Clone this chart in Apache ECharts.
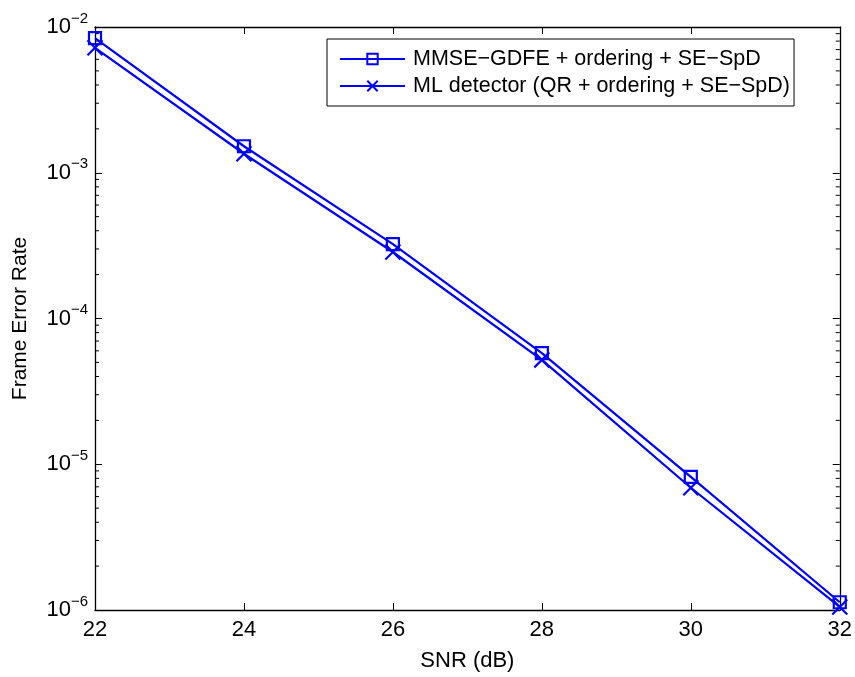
<!DOCTYPE html>
<html><head><meta charset="utf-8">
<script src="https://cdn.jsdelivr.net/npm/echarts@6/dist/echarts.min.js"></script>
<style>html,body{margin:0;padding:0;background:#fff}#c{width:855px;height:677px}</style>
</head><body><div id="c"></div>
<script>
const snr = [22, 24, 26, 28, 30, 32];
const mmseFer = [8.4e-3, 1.52e-3, 3.24e-4, 5.78e-5, 8.2e-6, 1.13e-6];
const mlFer = [7.2e-3, 1.35e-3, 2.86e-4, 5.2e-5, 6.9e-6, 1.05e-6];
const seriesNames = ['MMSE\u2212GDFE + ordering + SE\u2212SpD', 'ML detector (QR + ordering + SE\u2212SpD)'];
const decades = [-6, -5, -4, -3];
const minorMult = [2, 3, 4, 5, 6, 7, 8, 9];
const minorVals = [];
decades.forEach(d => minorMult.forEach(m => minorVals.push(m * Math.pow(10, d))));

const FONT = 'Liberation Sans, Arial, sans-serif';
const BLUE = '#0000ff';
const chart = echarts.init(document.getElementById('c'));

const crossPath = 'path://M0,0L10,10M10,0L0,10';

chart.setOption({
  animation: false,
  backgroundColor: '#fff',
  textStyle: { fontFamily: FONT },
  grid: { left: 95, right: 15, top: 27, bottom: 62, containLabel: false },
  legend: {
    data: seriesNames,
    orient: 'vertical',
    left: 327, top: 39,
    itemWidth: 65, itemHeight: 13, itemGap: 5,
    padding: [9, 4, 9, 12],
    borderColor: '#000', borderWidth: 1, backgroundColor: '#fff',
    textStyle: { fontFamily: FONT, fontSize: 21.5, color: '#000', padding: [0, 0, 0, 3] }
  },
  xAxis: [{
    type: 'value', min: 22, max: 32, interval: 2,
    name: 'SNR (dB)', nameLocation: 'middle', nameGap: 40,
    nameTextStyle: { fontFamily: FONT, fontSize: 22, color: '#000' },
    axisLine: { lineStyle: { color: '#000', width: 1.3 } },
    axisTick: { inside: true, length: 7, lineStyle: { color: '#000' } },
    axisLabel: { fontFamily: FONT, fontSize: 22, color: '#000', margin: 9 },
    splitLine: { show: false }
  }, {
    type: 'value', position: 'top', min: 22, max: 32, interval: 2,
    axisLine: { lineStyle: { color: '#000', width: 1.3 } },
    axisTick: { inside: true, length: 7, lineStyle: { color: '#000' } },
    axisLabel: { show: false }, splitLine: { show: false }
  }],
  yAxis: [{
    type: 'log', logBase: 10, min: 1e-6, max: 1e-2,
    name: 'Frame Error Rate', nameLocation: 'middle', nameGap: 64,
    nameTextStyle: { fontFamily: FONT, fontSize: 21, color: '#000' },
    axisLine: { lineStyle: { color: '#000', width: 1.3 } },
    axisTick: { inside: true, length: 7, lineStyle: { color: '#000' } },
    axisLabel: {
      margin: 7,
      formatter: v => '{b|10}{s|' + String(Math.round(Math.log10(v))).replace('-', '\u2212') + '}',
      rich: {
        b: { fontFamily: FONT, fontSize: 22, color: '#000' },
        s: { fontFamily: FONT, fontSize: 15, color: '#000', padding: [0, 0, 17, 0] }
      }
    },
    splitLine: { show: false }
  }, {
    type: 'log', logBase: 10, min: 1e-6, max: 1e-2, position: 'right',
    axisLine: { lineStyle: { color: '#000', width: 1.3 } },
    axisTick: { inside: true, length: 7, lineStyle: { color: '#000' } },
    axisLabel: { show: false }, splitLine: { show: false }
  }],
  series: [{
    name: seriesNames[0], type: 'line',
    data: snr.map((x, i) => [x, mmseFer[i]]),
    symbol: 'rect', symbolSize: 12,
    lineStyle: { color: BLUE, width: 2.2 },
    itemStyle: { color: 'rgba(0,0,0,0)', borderColor: BLUE, borderWidth: 2.2 },
    z: 3
  }, {
    name: seriesNames[1], type: 'line',
    data: snr.map((x, i) => [x, mlFer[i]]),
    symbol: crossPath, symbolSize: 15,
    lineStyle: { color: BLUE, width: 2.2 },
    itemStyle: { color: 'rgba(0,0,0,0)', borderColor: BLUE, borderWidth: 2.2 },
    z: 3
  }, {
    type: 'custom', name: 'minorTicks', silent: true,
    data: minorVals.map(v => [22, v]),
    renderItem: (params, api) => {
      const v = api.value(1);
      const pl = api.coord([22, v]);
      const pr = api.coord([32, v]);
      return {
        type: 'group',
        children: [
          { type: 'line', shape: { x1: pl[0], y1: pl[1], x2: pl[0] + 4, y2: pl[1] }, style: { stroke: '#000', lineWidth: 1 } },
          { type: 'line', shape: { x1: pr[0], y1: pr[1], x2: pr[0] - 4, y2: pr[1] }, style: { stroke: '#000', lineWidth: 1 } }
        ]
      };
    },
    z: 1
  }]
});
</script></body></html>
